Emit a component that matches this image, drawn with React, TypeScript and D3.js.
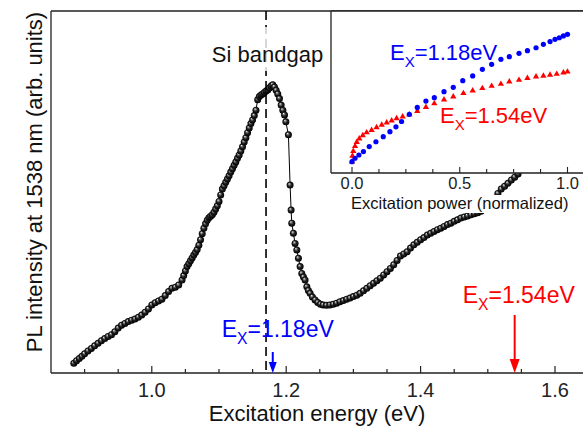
import React, { useEffect, useRef } from 'react';
import * as d3 from 'd3';

const W = 583;
const H = 427;
const FONT = "'Liberation Sans', Arial, Helvetica, sans-serif";

// main scan: excitation energy (eV) vs PL intensity at 1538 nm (arb. units)
const energy = [
  0.884, 0.888, 0.892, 0.896, 0.900, 0.905, 0.910, 0.915, 0.920, 0.925,
  0.930, 0.935, 0.940, 0.945, 0.950, 0.955, 0.960, 0.965, 0.970, 0.975,
  0.980, 0.985, 0.990, 0.995, 1.000, 1.005, 1.010, 1.015, 1.020, 1.025,
  1.030, 1.035, 1.040, 1.045, 1.0475, 1.050, 1.0525, 1.055, 1.0575, 1.060,
  1.0625, 1.065, 1.0675, 1.070, 1.0725, 1.075, 1.0775, 1.080, 1.0825, 1.085,
  1.0875, 1.090, 1.0925, 1.095, 1.0975, 1.100, 1.1025, 1.105, 1.1075, 1.110,
  1.1125, 1.115, 1.1175, 1.120, 1.1225, 1.125, 1.1275, 1.130, 1.1325, 1.135,
  1.1375, 1.140, 1.1425, 1.145, 1.1475, 1.150, 1.1525, 1.155, 1.1575, 1.160,
  1.1625, 1.165, 1.1675, 1.170, 1.1725, 1.175, 1.1775, 1.180, 1.1825, 1.185,
  1.1875, 1.190, 1.1925, 1.195, 1.1975, 1.1995, 1.2033, 1.2058, 1.2073, 1.2083,
  1.2107, 1.2132, 1.2158, 1.2182, 1.2207, 1.2232, 1.2257, 1.2281, 1.2307, 1.233,
  1.2356, 1.239, 1.243, 1.247, 1.251, 1.255, 1.260, 1.265, 1.270, 1.275,
  1.280, 1.285, 1.290, 1.295, 1.300, 1.305, 1.310, 1.315, 1.320, 1.325,
  1.330, 1.335, 1.340, 1.345, 1.350, 1.355, 1.360, 1.365, 1.370, 1.375,
  1.380, 1.385, 1.390, 1.395, 1.400, 1.405, 1.410, 1.415, 1.420, 1.425,
  1.430, 1.435, 1.440, 1.445, 1.450, 1.455, 1.460, 1.465, 1.470, 1.475,
  1.480, 1.485, 1.490, 1.495, 1.500, 1.505, 1.510, 1.515, 1.520, 1.525,
  1.530, 1.535, 1.540, 1.545,
];
const intensity = [
  2.7, 3.4, 4.0, 4.6, 5.3, 6.1, 6.8, 7.5, 8.2, 8.9,
  9.5, 10.1, 10.6, 11.4, 12.4, 13.2, 13.7, 14.2, 14.6, 14.9,
  15.4, 16.0, 16.8, 17.7, 18.8, 19.4, 19.9, 20.4, 21.4, 22.5,
  23.4, 23.7, 24.3, 25.7, 26.9, 28.2, 29.4, 30.2, 31.0, 31.8,
  32.6, 33.3, 34.1, 35.3, 36.8, 38.5, 40.0, 41.2, 42.2, 42.9,
  43.3, 43.7, 44.4, 45.3, 46.2, 47.4, 49.2, 50.8, 51.7, 52.7,
  53.6, 54.5, 55.5, 56.4, 57.4, 58.3, 59.3, 60.2, 61.3, 62.5,
  63.8, 65.0, 66.4, 67.7, 68.9, 69.9, 71.1, 72.6, 75.5, 76.4,
  76.8, 77.1, 77.5, 77.9, 78.2, 78.7, 79.3, 79.6, 79.0, 78.1,
  77.1, 75.8, 74.0, 72.6, 71.3, 69.4, 65.8, 51.9, 45.0, 41.4,
  38.6, 35.8, 34.0, 31.7, 29.4, 27.5, 26.5, 25.7, 23.8, 22.8,
  22.0, 21.0, 20.2, 19.5, 19.0, 18.8, 18.7, 18.8, 19.0, 19.3,
  19.7, 20.0, 20.4, 20.7, 21.1, 21.5, 22.0, 22.7, 23.4, 24.1,
  24.8, 25.5, 26.2, 27.1, 28.0, 28.9, 29.9, 31.1, 32.3, 32.9,
  33.5, 34.5, 35.4, 36.1, 36.8, 37.4, 38.1, 38.6, 39.1, 39.6,
  40.0, 40.5, 41.0, 41.4, 41.9, 42.3, 42.8, 43.1, 43.4, 43.7,
  44.0, 44.3, 44.7, 45.3, 46.0, 47.0, 48.3, 49.6, 50.8, 51.6,
  52.4, 53.3, 54.1, 55.0,
];

// inset: PL vs normalized excitation power
const powerBlue = [
  0.0, 0.014, 0.032, 0.053, 0.080, 0.111, 0.145, 0.176, 0.204, 0.230,
  0.266, 0.303, 0.343, 0.382, 0.427, 0.470, 0.514, 0.560, 0.605, 0.648,
  0.691, 0.730, 0.775, 0.814, 0.854, 0.888, 0.919, 0.942, 0.962, 0.981, 1.0,
];
const plBlue = [
  0.070, 0.091, 0.111, 0.132, 0.163, 0.193, 0.224, 0.255, 0.285, 0.318,
  0.362, 0.405, 0.444, 0.465, 0.502, 0.529, 0.570, 0.599, 0.640, 0.671,
  0.702, 0.718, 0.739, 0.755, 0.773, 0.794, 0.811, 0.825, 0.835, 0.846, 0.856,
];
const powerRed = [
  0.0, 0.002, 0.006, 0.014, 0.022, 0.034, 0.050, 0.068, 0.091, 0.114,
  0.138, 0.161, 0.184, 0.207, 0.235, 0.266, 0.303, 0.343, 0.382, 0.427,
  0.470, 0.517, 0.560, 0.605, 0.648, 0.691, 0.730, 0.775, 0.814, 0.854,
  0.888, 0.919, 0.950, 0.981, 1.0,
];
const plRed = [
  0.070, 0.105, 0.135, 0.165, 0.190, 0.212, 0.232, 0.250, 0.265, 0.282,
  0.297, 0.311, 0.323, 0.337, 0.348, 0.360, 0.382, 0.407, 0.429, 0.453,
  0.471, 0.492, 0.508, 0.523, 0.537, 0.549, 0.564, 0.574, 0.585, 0.595,
  0.599, 0.605, 0.611, 0.619, 0.625,
];

const mainMajor = [1.0, 1.2, 1.4, 1.6];
const insetMajor = [0, 0.5, 1.0];
const bandgap = 1.17;
const blueEx = 1.18;
const redEx = 1.54;

const BLUE = '#0000ff';
const RED = '#ff0000';

export default function App() {
  const ref = useRef<SVGSVGElement>(null);

  useEffect(() => {
    const svg = d3.select(ref.current);
    svg.selectAll('*').remove();

    const x = d3.scaleLinear().domain([0.85, 1.65]).range([51, 588.6]);
    const y = d3.scaleLinear().domain([0, 100]).range([373, 11]);
    const fmt = d3.format('.1f');

    // shaded ball look for the main scan markers
    const defs = svg.append('defs');
    const grad = defs.append('radialGradient')
      .attr('id', 'ball').attr('cx', '50%').attr('cy', '50%').attr('r', '50%')
      .attr('fx', '35%').attr('fy', '30%');
    grad.append('stop').attr('offset', '0%').attr('stop-color', '#ffffff');
    grad.append('stop').attr('offset', '22%').attr('stop-color', '#8a8a8a');
    grad.append('stop').attr('offset', '55%').attr('stop-color', '#222');
    grad.append('stop').attr('offset', '100%').attr('stop-color', '#000');

    // frame
    svg.append('path')
      .attr('d', 'M51,11H583M51,11V373M51,373H583')
      .attr('fill', 'none').attr('stroke', '#222').attr('stroke-width', 1.3);

    // ticks (inward)
    const ticks = d3.range(0.9, 1.6001, 0.05);
    svg.append('g').selectAll('line').data(ticks).enter().append('line')
      .attr('x1', d => x(d)).attr('x2', d => x(d))
      .attr('y1', 373)
      .attr('y2', d => mainMajor.some(m => Math.abs(m - d) < 1e-6) ? 366 : 369)
      .attr('stroke', '#222').attr('stroke-width', 1.2);
    svg.append('g').selectAll('text').data(mainMajor).enter().append('text')
      .attr('x', d => x(d)).attr('y', 397)
      .attr('text-anchor', 'middle')
      .attr('font-family', FONT).attr('font-size', 20).attr('fill', '#222')
      .text(d => fmt(d));

    svg.append('text')
      .attr('x', 317).attr('y', 421).attr('text-anchor', 'middle')
      .attr('font-family', FONT).attr('font-size', 22).attr('fill', '#111')
      .text('Excitation energy (eV)');
    svg.append('text')
      .attr('transform', 'translate(42,182) rotate(-90)')
      .attr('text-anchor', 'middle')
      .attr('font-family', FONT).attr('font-size', 22).attr('fill', '#111')
      .text('PL intensity at 1538 nm (arb. units)');

    // main curve
    const pts = energy.map((e, i) => [e, intensity[i]] as [number, number]);
    const line = d3.line<[number, number]>().x(d => x(d[0])).y(d => y(d[1]));
    svg.append('path').datum(pts)
      .attr('d', line).attr('fill', 'none').attr('stroke', '#000').attr('stroke-width', 1);
    svg.append('g').selectAll('circle').data(pts).enter().append('circle')
      .attr('cx', d => x(d[0])).attr('cy', d => y(d[1])).attr('r', 3.5)
      .attr('fill', 'url(#ball)');

    // Si bandgap marker
    svg.append('line')
      .attr('x1', x(bandgap)).attr('x2', x(bandgap)).attr('y1', 11).attr('y2', 373)
      .attr('stroke', '#000').attr('stroke-width', 1.6).attr('stroke-dasharray', '9,5');
    svg.append('rect')
      .attr('x', 207).attr('y', 27).attr('width', 126).attr('height', 44)
      .attr('fill', '#fff').attr('fill-opacity', 0.8);
    svg.append('text')
      .attr('x', 267.5).attr('y', 62).attr('text-anchor', 'middle')
      .attr('font-family', FONT).attr('font-size', 22).attr('fill', '#111')
      .text('Si bandgap');

    const exLabel = (px: number, py: number, val: string, color: string, size: number) => {
      const t = svg.append('text').attr('x', px).attr('y', py)
        .attr('font-family', FONT).attr('font-size', size).attr('fill', color);
      t.append('tspan').text('E');
      t.append('tspan').attr('font-size', size * 0.68).attr('dy', size * 0.32).text('X');
      t.append('tspan').attr('dy', -size * 0.32).text('=' + val + 'eV');
    };
    const arrow = (e: number, y0: number, color: string, hw: number, hl: number) => {
      const ax = x(e);
      svg.append('line').attr('x1', ax).attr('x2', ax).attr('y1', y0).attr('y2', 373 - hl + 1)
        .attr('stroke', color).attr('stroke-width', 2);
      svg.append('path')
        .attr('d', `M${ax - hw},${373 - hl}L${ax + hw},${373 - hl}L${ax},373Z`)
        .attr('fill', color);
    };

    exLabel(221.7, 337, '1.18', BLUE, 23);
    arrow(blueEx, 352, BLUE, 4, 11);
    exLabel(462.7, 303, '1.54', RED, 23);
    arrow(redEx, 315, RED, 5, 14);

    // inset
    const ix = d3.scaleLinear().domain([0, 1]).range([352, 567.5]);
    const iy = d3.scaleLinear().domain([0, 1]).range([173, 11]);

    svg.append('rect').attr('x', 331).attr('y', 11).attr('width', 260).attr('height', 162)
      .attr('fill', '#fff');
    svg.append('path')
      .attr('d', 'M331,11H583M331,11V173M331,173H583')
      .attr('fill', 'none').attr('stroke', '#222').attr('stroke-width', 1.3);

    const iticks = d3.range(0, 1.0001, 0.125);
    svg.append('g').selectAll('line').data(iticks).enter().append('line')
      .attr('x1', d => ix(d)).attr('x2', d => ix(d))
      .attr('y1', 173)
      .attr('y2', d => insetMajor.some(m => Math.abs(m - d) < 1e-6) ? 167 : 169)
      .attr('stroke', '#222').attr('stroke-width', 1.1);
    svg.append('g').selectAll('text').data(insetMajor).enter().append('text')
      .attr('x', d => ix(d)).attr('y', 189).attr('text-anchor', 'middle')
      .attr('font-family', FONT).attr('font-size', 16.5).attr('fill', '#222')
      .text(d => fmt(d));

    svg.append('rect').attr('x', 342).attr('y', 195).attr('width', 236).attr('height', 18)
      .attr('fill', '#fff');
    svg.append('text')
      .attr('x', ix(0.5)).attr('y', 209).attr('text-anchor', 'middle')
      .attr('font-family', FONT).attr('font-size', 16.5).attr('fill', '#111')
      .text('Excitation power (normalized)');

    const red = powerRed.map((p, i) => [p, plRed[i]] as [number, number]);
    const blue = powerBlue.map((p, i) => [p, plBlue[i]] as [number, number]);
    const tri = d3.symbol().type(d3.symbolTriangle).size(17);
    svg.append('g').selectAll('path').data(red).enter().append('path')
      .attr('transform', d => `translate(${ix(d[0])},${iy(d[1])})`)
      .attr('d', tri).attr('fill', RED);
    svg.append('g').selectAll('circle').data(blue).enter().append('circle')
      .attr('cx', d => ix(d[0])).attr('cy', d => iy(d[1])).attr('r', 2.6)
      .attr('fill', BLUE);

    exLabel(390, 60, '1.18', BLUE, 22);
    exLabel(440, 123, '1.54', RED, 22);
  }, []);

  return (
    <svg
      ref={ref}
      width={W}
      height={H}
      style={{ position: 'absolute', left: 0, top: 0, background: '#fff' }}
    />
  );
}
